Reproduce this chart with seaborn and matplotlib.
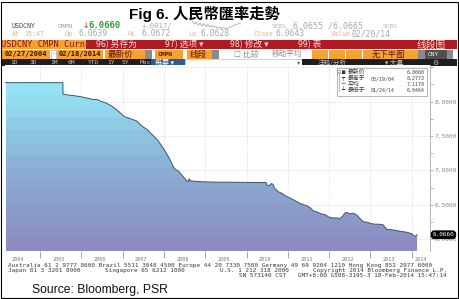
import numpy as np
import matplotlib
matplotlib.use('Agg')
import matplotlib.pyplot as plt
import seaborn as sns
import matplotlib.transforms as mtransforms
import matplotlib.ticker as mticker
from matplotlib.patches import Rectangle
from matplotlib.colors import LinearSegmentedColormap

# ---------------- data ----------------
dates = [2004.16, 2004.5, 2005.0, 2005.55, 2005.553, 2005.7, 2005.85, 2006.0, 2006.15,
         2006.3, 2006.37, 2006.45, 2006.6, 2006.75, 2006.86, 2006.95, 2007.05, 2007.2,
         2007.34, 2007.4, 2007.5, 2007.58, 2007.62, 2007.66, 2007.75, 2007.86, 2007.95,
         2008.05, 2008.15, 2008.22, 2008.27, 2008.35, 2008.45, 2008.55, 2008.59, 2008.61,
         2008.64, 2008.8, 2009.0, 2009.3, 2009.6, 2009.9, 2010.2, 2010.47, 2010.49,
         2010.55, 2010.6, 2010.64, 2010.68, 2010.72, 2010.77, 2010.85, 2010.95, 2011.05,
         2011.15, 2011.3, 2011.45, 2011.54, 2011.62, 2011.7, 2011.8, 2011.9, 2012.0,
         2012.1, 2012.2, 2012.26, 2012.32, 2012.38, 2012.43, 2012.5, 2012.58, 2012.65,
         2012.72, 2012.78, 2012.85, 2012.92, 2013.0, 2013.1, 2013.2, 2013.31, 2013.36,
         2013.4, 2013.5, 2013.6, 2013.7, 2013.8, 2013.9, 2014.0, 2014.065, 2014.1, 2014.13]
rates = [8.2770, 8.2766, 8.2765, 8.2765, 8.11, 8.095, 8.085, 8.07, 8.05,
         8.03, 8.035, 8.01, 7.98, 7.93, 7.88, 7.83, 7.78, 7.75,
         7.72, 7.68, 7.63, 7.60, 7.58, 7.55, 7.50, 7.43, 7.35,
         7.26, 7.15, 7.06, 7.02, 6.99, 6.92, 6.85, 6.84, 6.88,
         6.85, 6.84, 6.835, 6.83, 6.83, 6.827, 6.826, 6.826, 6.79,
         6.78, 6.81, 6.80, 6.74, 6.72, 6.69, 6.67, 6.63, 6.60,
         6.57, 6.52, 6.49, 6.46, 6.41, 6.40, 6.37, 6.36, 6.32,
         6.31, 6.31, 6.30, 6.33, 6.38, 6.39, 6.37, 6.38, 6.36,
         6.32, 6.28, 6.25, 6.25, 6.23, 6.22, 6.22, 6.21, 6.17,
         6.145, 6.14, 6.13, 6.12, 6.11, 6.10, 6.08, 6.0464, 6.05, 6.066]
year_labels = ['2004', '2005', '2006', '2007', '2008', '2009', '2010', '2011', '2012', '2013', '2014']
year_bounds = [2005, 2006, 2007, 2008, 2009, 2010, 2011, 2012, 2013, 2014]
ytick_vals = [6.0, 6.5, 7.0, 7.5, 8.0, 8.5]
legend_names = ['最新价', '最高于', '平均', '最低于']
legend_dates = ['', '03/19/04', '', '01/24/14']
legend_values = ['6.0660', '8.2773', '7.1178', '6.0464']
spark = [6.0672, 6.0660, 6.0668, 6.0655, 6.0664, 6.0650, 6.0662, 6.0648, 6.0658, 6.0646,
         6.0654, 6.0645, 6.0650, 6.0642, 6.0646, 6.0640, 6.0643, 6.0639, 6.0641, 6.0644,
         6.0648, 6.0652, 6.0655, 6.0658, 6.0662, 6.0660]

MONO = ['DejaVu Sans Mono', 'Noto Sans CJK SC']
CJK = ['Noto Sans CJK SC', 'DejaVu Sans']

W, H = 460, 299
fig = plt.figure(figsize=(W / 100, H / 100), dpi=100)
fig.patch.set_facecolor('white')

bg = fig.add_axes([0, 0, 1, 1], zorder=0)
bg.set_xlim(0, W); bg.set_ylim(H, 0); bg.axis('off')
top = fig.add_axes([0, 0, 1, 1], zorder=5)
top.set_xlim(0, W); top.set_ylim(H, 0); top.axis('off'); top.patch.set_alpha(0)


def rect(a, x0, y0, x1, y1, fc, ec='none', lw=0, z=1):
    a.add_patch(Rectangle((x0, y0), x1 - x0, y1 - y0, facecolor=fc, edgecolor=ec, linewidth=lw, zorder=z))


def txt(a, x, y, s, size, color, ha='left', weight='normal', fam=MONO, z=3):
    a.text(x, y, s, fontsize=size, color=color, ha=ha, va='center', fontweight=weight, family=fam, zorder=z)


# title
bg.text(204, 14, 'Fig 6. 人民幣匯率走勢', fontsize=11, fontweight='bold',
        family=['Liberation Sans', 'Noto Sans CJK TC'], ha='center', va='center')

# row 1
txt(bg, 12, 26, 'USDCNY', 4.8, '#444444')
txt(bg, 58, 26, 'CMPN', 4.5, '#999999')
txt(bg, 82, 26, '↓', 5.5, '#d02020', fam=['DejaVu Sans'])
txt(bg, 88, 26, '6.0660', 6.5, '#2ea02e', weight='bold')
txt(bg, 142, 26, '+.0017/', 5.2, '#aaaaaa')
txt(bg, 272, 26, 'SEBS', 4.5, '#bbbbbb')
txt(bg, 293, 26, '6.0655 /6.0665', 6.0, '#aaaaaa')
txt(bg, 383, 26, 'SEBS', 4.5, '#bbbbbb')
sp = fig.add_axes([190 / W, 1 - 29 / H, 53 / W, 8 / H], zorder=1)
sns.lineplot(x=np.arange(len(spark)), y=spark, ax=sp, color='#8aa88a', linewidth=0.5)
sp.axis('off')

# row 2
row2 = [(12, 'At', 'l'), (24, '15:47', 'l'), (65, 'Op', 'l'), (79, '6.0639', 'v'), (128, 'Hi', 'l'),
        (142, '6.0672', 'v'), (188, 'Lo', 'l'), (201, '6.0628', 'v'), (254, 'Close', 'l'),
        (276, '6.0643', 'v'), (331, 'Value', 'l'), (352, '02/20/14', 'v')]
for x, s, k in row2:
    txt(bg, x, 34, s, 4.8 if k == 'l' else 5.8, '#f2ab8c' if k == 'l' else '#a8a8a8')

# row 3 (red bar)
rect(bg, 2, 40, 86, 49.3, '#f4a232')
txt(bg, 1, 44.7, 'USDCNY CMPN Curn', 6.2, '#8a1a10')
rect(bg, 86, 40, 457, 49.3, '#b01a22')
for x, s in [(96, '96) 另存为'), (165, '97) 选项 ▾'), (230, '98) 修改 ▾'), (298, '99) 表')]:
    txt(bg, x, 44.7, s, 6.3, '#ffd6d6', fam=CJK)
txt(bg, 417, 44.7, '线段图', 7, '#ffd6c8', fam=CJK)

# row 4
y0, y1 = 50, 58.5
ym = (y0 + y1) / 2
rect(bg, 2, y0, 50, y1, '#f4a232'); txt(bg, 26, ym, '02/27/2004', 5.0, '#3a1008', ha='center', weight='bold')
rect(bg, 51, y0, 56, y1, 'white', ec='#999999', lw=0.4); txt(bg, 53.5, ym, '-', 4.5, '#333333', ha='center')
rect(bg, 57, y0, 103, y1, '#f4a232'); txt(bg, 80, ym, '02/18/2014', 5.0, '#3a1008', ha='center', weight='bold')
rect(bg, 105, y0, 145, y1, '#f4a232'); txt(bg, 108, ym, '最新价', 6.2, '#5a1008', fam=CJK)
rect(bg, 145, y0, 152, y1, '#8a8a8a')
rect(bg, 155, y0, 183, y1, '#f4a232'); txt(bg, 158, ym, 'CMPN', 4.5, '#5a1008', weight='bold')
rect(bg, 187, y0, 212, y1, '#f4a232'); txt(bg, 190, ym, '线段', 6.2, '#5a1008', fam=CJK)
rect(bg, 212, y0, 219, y1, '#8a8a8a')
txt(bg, 234, ym, '☐ 比较', 5.5, '#888888', fam=['DejaVu Sans', 'Noto Sans CJK SC'])
txt(bg, 272, ym, '移动平均', 5.5, '#888888', fam=CJK)
for a0, a1 in [(312, 328), (329, 345), (346, 362), (363, 418)]:
    rect(bg, a0, y0, a1, y1, '#f4a232')
txt(bg, 372, ym, '无下半图', 6.0, '#5a1008', fam=CJK)
rect(bg, 418, y0, 425, y1, '#8a8a8a')
rect(bg, 425, y0, 447, y1, '#505050'); txt(bg, 428, ym, 'CNY', 4.5, '#eeeeee')
rect(bg, 447, y0, 453, y1, '#8a8a8a')

# row 5
y0, y1 = 59.3, 65.8
ym = (y0 + y1) / 2
rect(bg, 2, y0, 151, y1, '#1e1e1e')
for x, s in [(10, '1D'), (30, '3D'), (50, '1M'), (68, '6M'), (88, 'YTD'), (107, '1Y'), (122, '5Y'), (140, 'Max')]:
    txt(bg, x, ym, s, 4.5, '#c0c0c0')
rect(bg, 151, y0, 185, y1, '#2c5b9a'); txt(bg, 155, ym, '概要 ▾', 5.0, 'white', fam=CJK)
rect(bg, 185, y0, 302, y1, 'white', ec='#b0b0b0', lw=0.4)
txt(bg, 297, ym, '▾', 4.5, '#666666', fam=['DejaVu Sans'])
rect(bg, 302, y0, 457, y1, '#1e1e1e')
txt(bg, 318, ym, '注释/分析', 4.8, '#c0c0c0', fam=CJK)
txt(bg, 385, ym, '▾ 大量', 4.8, '#c0c0c0', fam=CJK)
txt(bg, 432, ym, '⚙', 5.0, '#c0c0c0', fam=['DejaVu Sans'])

# ---------------- main chart ----------------
pl, pr, pt, pb = 5.5, 430, 65, 251
ax = fig.add_axes([pl / W, 1 - pb / H, (pr - pl) / W, (pb - pt) / H], zorder=2)
xmin, xmax = 2004.16, 2014.443
ylo, yhi = 5.830, 8.533
ax.set_xlim(xmin, xmax); ax.set_ylim(ylo, yhi)

cmap = LinearSegmentedColormap.from_list('bb', ['#8c8cc2', '#8bb3d6', '#97edfb'])
grad = np.floor(np.linspace(0, 1, 200) * 14) / 14
im = ax.imshow(grad[:, None], extent=[xmin, xmax, ylo, max(rates)], origin='lower',
               aspect='auto', cmap=cmap, vmin=0, vmax=1, zorder=1, interpolation='nearest')
poly = ax.fill_between(dates, rates, ylo, facecolor='none', edgecolor='none')
im.set_clip_path(poly.get_paths()[0], transform=ax.transData)
ax.set_xlim(xmin, xmax); ax.set_ylim(ylo, yhi)
sns.lineplot(x=dates, y=rates, ax=ax, color='#3e5566', linewidth=0.7, estimator=None, zorder=3)
ax.set_xlabel(''); ax.set_ylabel('')

ax.set_axisbelow(True)
ax.set_xticks(year_bounds)
ax.set_xticklabels([''] * len(year_bounds))
label_pos = [min(int(l) + 0.45, (int(l) + xmax) / 2) for l in year_labels]
label_pos[0] = 2004.47
ax.set_xticks(label_pos, minor=True)
ax.set_xticklabels(year_labels, minor=True)
ax.tick_params(axis='x', which='major', length=5, width=0.6, color='#999999', direction='out')
ax.tick_params(axis='x', which='minor', length=0, pad=4.2, labelsize=3.7, labelcolor='#777777')
for lb in ax.get_xticklabels(minor=True):
    lb.set_family(MONO)

ax.yaxis.tick_right()
ax.set_yticks(ytick_vals)
ax.yaxis.set_major_formatter(mticker.FuncFormatter(lambda v, p: '' if v > 8.25 else f'{v:.4f}'))
ax.yaxis.set_minor_locator(mticker.MultipleLocator(0.25))
ax.tick_params(axis='y', which='both', length=2, width=0.5, color='#999999', pad=1.5,
               labelsize=4.4, labelcolor='#888888')
for lb in ax.get_yticklabels():
    lb.set_family(MONO)
ax.grid(which='major', color='#cccccc', linestyle=(0, (1, 1.5)), linewidth=0.5)
for s in ['left', 'top', 'bottom']:
    ax.spines[s].set_visible(False)
ax.spines['right'].set_color('#aaaaaa'); ax.spines['right'].set_linewidth(0.6)

trans = mtransforms.blended_transform_factory(ax.transAxes, ax.transData)
ax.text(1.006, rates[-1], f'{rates[-1]:.4f}', transform=trans, color='white', fontsize=4.3,
        family=MONO, va='center', ha='left', clip_on=False, zorder=10,
        bbox=dict(boxstyle='round,pad=0.2,rounding_size=0.5', fc='black', ec='black'))

# legend box
rect(top, 337, 68, 427, 96, 'white', ec='#999999', lw=0.5, z=1)
ly = [72.7, 78.6, 84.4, 90.5]
marks = ['■', '┯', '─', '┷']
top.plot([339, 339], [74, 90.5], color='#888888', lw=0.4, zorder=2)
txt(top, 336.5, ly[0], '⊟', 3.6, '#666666', fam=['DejaVu Sans'])
for i in range(4):
    txt(top, 342 if i == 0 else 341, ly[i], marks[i], 4.0, '#333333', fam=['DejaVu Sans Mono'])
    txt(top, 348, ly[i], legend_names[i], 4.2, '#333333', fam=CJK)
    if legend_dates[i]:
        txt(top, 371, ly[i], legend_dates[i], 3.6, '#444444')
    txt(top, 425, ly[i], legend_values[i], 3.6, '#444444', ha='right')

# footer
txt(bg, 8, 265.3, 'Australia 61 2 9777 8600 Brazil 5511 3048 4500 Europe 44 20 7330 7500 Germany 49 69 9204 1210 Hong Kong 852 2977 6000', 4.3, '#3a3a3a')
txt(bg, 8, 270.3, 'Japan 81 3 3201 8900', 4.3, '#3a3a3a')
txt(bg, 105, 270.3, 'Singapore 65 6212 1000', 4.3, '#3a3a3a')
txt(bg, 220, 270.3, 'U.S. 1 212 318 2000', 4.3, '#3a3a3a')
txt(bg, 447, 270.3, 'Copyright 2014 Bloomberg Finance L.P.', 4.3, '#3a3a3a', ha='right')
txt(bg, 239, 275.2, 'SN 573140 CST', 4.3, '#3a3a3a')
txt(bg, 447, 275.2, 'GMT+8:00 G588-3195-3 18-Feb-2014 15:47:14', 4.3, '#3a3a3a', ha='right')
bg.text(32, 290, 'Source: Bloomberg, PSR', fontsize=8.7, family=['Liberation Sans'], ha='left', va='center', color='#111111')

# outer frame
rect(top, 1.5, 1.5, 458.5, 297.5, 'none', ec='black', lw=0.8, z=6)

fig.savefig('out.png', dpi=100, facecolor='white')
